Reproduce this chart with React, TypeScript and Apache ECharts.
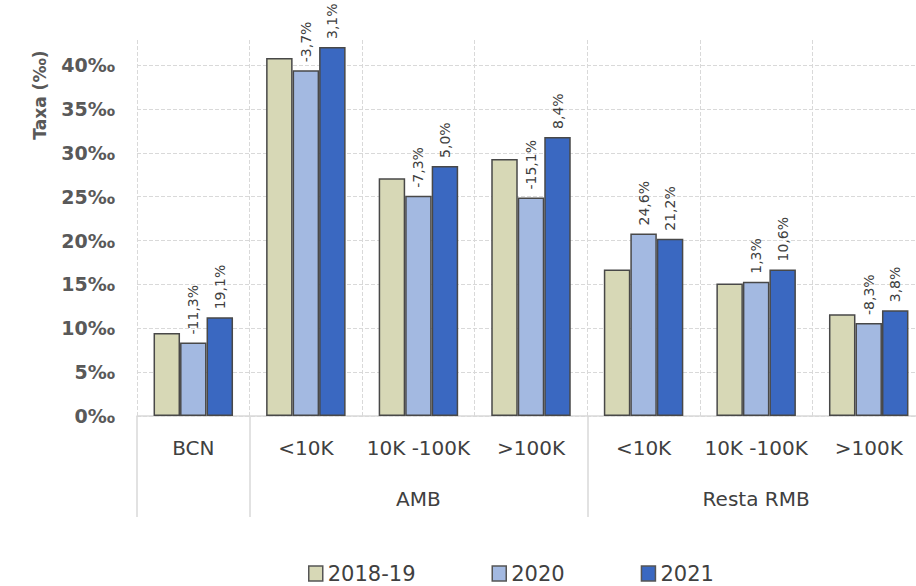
import React, { useEffect, useRef } from "react";
import * as echarts from "echarts";

const categories = ["BCN", "<10K", "10K -100K", ">100K", "<10K", "10K -100K", ">100K"];
const groupLabels = ["", "", "AMB", "", "", "Resta RMB", ""];
const seriesNames = ["2018-19", "2020", "2021"];
const values2018 = [9.45, 40.8, 27.1, 29.3, 16.7, 15.1, 11.6];
const values2020 = [8.38, 39.4, 25.1, 24.9, 20.8, 15.3, 10.6];
const values2021 = [11.25, 42.05, 28.5, 31.8, 20.2, 16.7, 12.05];
const labels2020 = ["-11,3%", "-3,7%", "-7,3%", "-15,1%", "24,6%", "1,3%", "-8,3%"];
const labels2021 = ["19,1%", "3,1%", "5,0%", "8,4%", "21,2%", "10,6%", "3,8%"];
const groupSeparators = [0, 1, 4];

const colors = ["#D7D8B6", "#A3B9E1", "#3A68C1"];
const font = "DejaVu Sans";

export default function App() {
  const ref = useRef<HTMLDivElement>(null);
  useEffect(() => {
    document.body.style.margin = "0";
    const chart = echarts.init(ref.current!, null, { renderer: "svg" });
    const barLabel = (texts: string[]) => ({
      show: true,
      position: "top",
      distance: 8,
      rotate: 90,
      align: "left",
      verticalAlign: "middle",
      fontFamily: font,
      fontSize: 14,
      color: "#404040",
      formatter: (p: any) => texts[p.dataIndex],
    });
    const itemStyle = (c: string) => ({ color: c, borderColor: "#484848", borderWidth: 1.5 });
    const gridColors = ["#d9d9d9", "#d9d9d9", "#d9d9d9", "#d9d9d9", "#d9d9d9", "#d9d9d9", "#d9d9d9", "#d9d9d9", "#d9d9d9", "rgba(0,0,0,0)"];
    chart.setOption({
      animation: false,
      grid: { left: 137, top: 40, right: -9, bottom: 170, containLabel: false, outerBoundsMode: "none" },
      legend: {
        data: seriesNames,
        left: 303,
        top: 558,
        itemGap: 76,
        itemWidth: 14,
        itemHeight: 15,
        icon: "rect",
        itemStyle: { borderColor: "#555555", borderWidth: 1.5 },
        textStyle: { fontFamily: font, fontSize: 21, color: "#404040" },
      },
      graphic: [
        {
          type: "text",
          x: 40,
          y: 95,
          rotation: Math.PI / 2,
          style: {
            text: "Taxa (‰)",
            fontFamily: font,
            fontWeight: "bold",
            fontSize: 17,
            fill: "#595959",
            align: "center",
            verticalAlign: "middle",
          },
        },
      ],
      xAxis: [
        {
          type: "category",
          data: categories,
          position: "bottom",
          axisLine: { show: true, lineStyle: { color: "#d9d9d9", width: 1.5 } },
          axisTick: { show: false },
          axisLabel: { interval: 0, margin: 22, fontFamily: font, fontSize: 20, color: "#404040" },
          splitLine: { show: true, lineStyle: { color: "#d9d9d9", type: "dashed", width: 1 } },
        },
        {
          type: "category",
          data: groupLabels,
          position: "bottom",
          offset: 0,
          axisLine: { show: false },
          axisTick: {
            show: true,
            length: 101,
            interval: (index: number) => groupSeparators.indexOf(index) >= 0,
            lineStyle: { color: "#d9d9d9", width: 1.5 },
          },
          axisLabel: { interval: 0, margin: 73, fontFamily: font, fontSize: 20, color: "#404040" },
          splitLine: { show: false },
        },
      ],
      yAxis: {
        type: "value",
        min: 0,
        max: 42.85,
        interval: 5,
        axisLine: { show: false },
        axisTick: { show: false },
        axisLabel: {
          margin: 22,
          showMaxLabel: false,
          fontFamily: font,
          fontWeight: "bold",
          fontSize: 19,
          color: "#595959",
          formatter: (v: number) => (Math.abs(v % 5) < 1e-6 ? v + "‰" : ""),
        },
        splitLine: { show: true, showMaxLine: false, lineStyle: { color: gridColors, type: "dashed", width: 1 } },
      },
      series: [
        {
          name: seriesNames[0],
          type: "bar",
          data: values2018,
          barWidth: 26.5,
          barGap: "0%",
          itemStyle: itemStyle(colors[0]),
        },
        {
          name: seriesNames[1],
          type: "bar",
          data: values2020,
          barWidth: 26.5,
          barGap: "0%",
          itemStyle: itemStyle(colors[1]),
          label: barLabel(labels2020),
        },
        {
          name: seriesNames[2],
          type: "bar",
          data: values2021,
          barWidth: 26.5,
          barGap: "0%",
          itemStyle: itemStyle(colors[2]),
          label: barLabel(labels2021),
        },
      ],
    });
    return () => chart.dispose();
  }, []);
  return <div ref={ref} style={{ width: 916, height: 586, background: "#ffffff" }} />;
}
